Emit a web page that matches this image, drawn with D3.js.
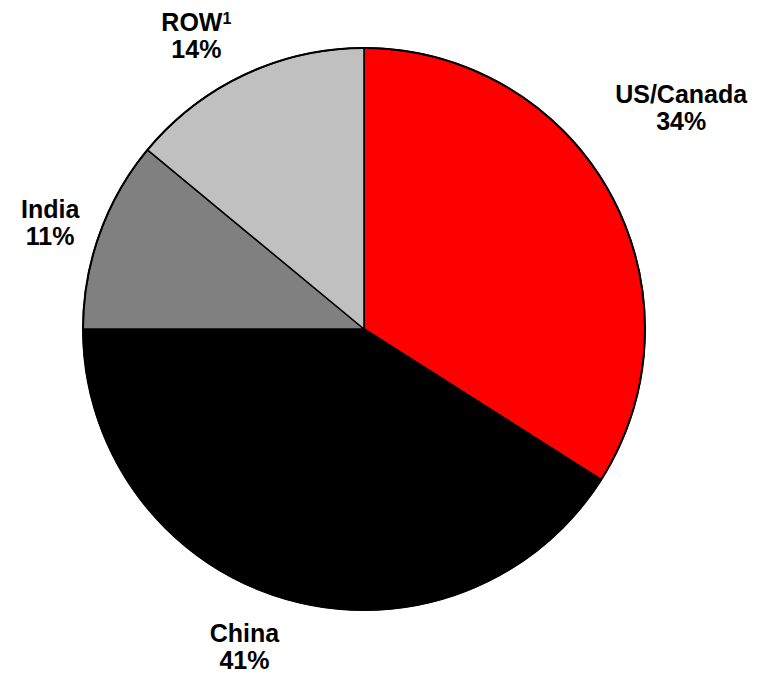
<!DOCTYPE html>
<html>
<head>
<meta charset="utf-8">
<script src="https://cdn.jsdelivr.net/npm/d3@7"></script>
<style>
  body { margin: 0; background: #fff; }
  .label { font-family: "Liberation Sans", Arial, sans-serif; font-weight: bold; font-size: 25px; fill: #000; }
</style>
</head>
<body>
<div id="chart"></div>
<script>
// slices, clockwise from 12 o'clock
var regions = ["US/Canada", "China", "India", "ROW"];
var shares = [34, 41, 11, 14];
var footnotes = ["", "", "", "1"];
var sliceColors = ["#ff0000", "#000000", "#808080", "#c0c0c0"];

var svgWidth = 759;
var svgHeight = 674;
var cx = 364, cy = 329, radius = 281;

// label layout (outside end, box corner at gap from the rim)
var labelGap = 21;
var lineHeight = 27;
var capHeight = 18;
// labels that were dragged by hand in the original
var labelNudge = [[-14, -54], [0, 5], [0, 18], [-4, 2]];

var svg = d3.select("#chart")
  .append("svg")
  .attr("width", svgWidth)
  .attr("height", svgHeight);

svg.append("rect")
  .attr("width", svgWidth)
  .attr("height", svgHeight)
  .attr("fill", "#fff");

var pieGroup = svg.append("g")
  .attr("transform", `translate(${cx}, ${cy})`);

var pie = d3.pie()
  .sort(null)
  .value(d => d);

var arc = d3.arc()
  .innerRadius(0)
  .outerRadius(radius);

var arcs = pie(shares);

pieGroup.selectAll("path.slice")
  .data(arcs)
  .enter()
  .append("path")
  .attr("class", "slice")
  .attr("d", arc)
  .attr("fill", (d, i) => sliceColors[i])
  .attr("stroke", "#000")
  .attr("stroke-width", 1.5)
  .attr("stroke-linejoin", "round");

// outer rim
pieGroup.append("circle")
  .attr("r", radius)
  .attr("fill", "none")
  .attr("stroke", "#000")
  .attr("stroke-width", 2);

// data labels
arcs.forEach(function(d, i) {
  var g = svg.append("g").attr("class", "label");

  var line1 = g.append("text")
    .attr("text-anchor", "middle");
  line1.append("tspan").text(regions[i]);
  if (footnotes[i]) {
    line1.append("tspan")
      .attr("font-size", "16px")
      .attr("dy", -7)
      .text(footnotes[i]);
  }

  var line2 = g.append("text")
    .attr("text-anchor", "middle")
    .text(shares[i] + "%");

  var w = Math.max(line1.node().getBBox().width, line2.node().getBBox().width);
  var h = capHeight + lineHeight;

  var a = (d.startAngle + d.endAngle) / 2;
  var px = cx + Math.sin(a) * (radius + labelGap);
  var py = cy - Math.cos(a) * (radius + labelGap);

  var centerX = px + (Math.sin(a) >= 0 ? w / 2 : -w / 2) + labelNudge[i][0];
  var centerY = py + (Math.cos(a) >= 0 ? -h / 2 : h / 2) + labelNudge[i][1];

  var base1 = centerY - h / 2 + capHeight;
  line1.attr("x", centerX).attr("y", base1);
  line1.selectAll("tspan").filter((t, k) => k === 0).attr("x", centerX);
  line2.attr("x", centerX).attr("y", base1 + lineHeight);
});
</script>
</body>
</html>
